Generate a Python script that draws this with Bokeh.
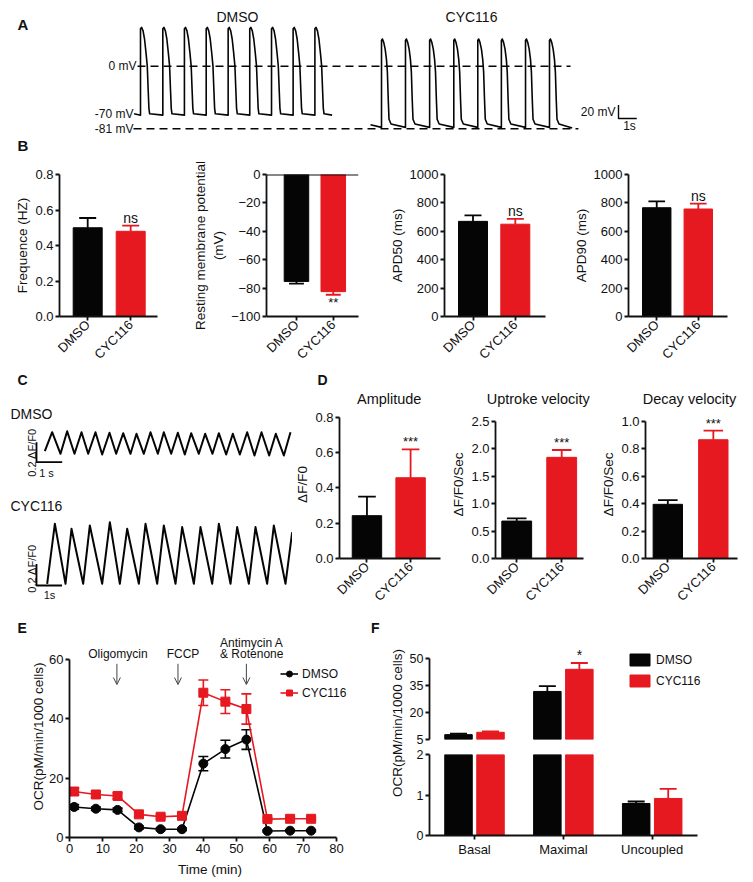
import math
from bokeh.plotting import figure
from bokeh.models import (Range1d, Label, LabelSet, ColumnDataSource, FixedTicker, Span,
                          Arrow, OpenHead, Legend, LegendItem, PrintfTickFormatter,
                          CDSView, BooleanFilter)
from bokeh.core.properties import value
from bokeh.layouts import row, column
from bokeh.embed import file_html
from bokeh.resources import INLINE

FONT = "Liberation Sans"
INK = "#111111"
BLACK = "#050505"
RED = "#e5191f"
GRAY = "#444444"

# ---------------- Panel A: action potentials (time s, mV) ----------------
ap_dmso_onsets = [0.00, 1.22, 2.40, 3.59, 4.79, 5.97, 7.16, 8.34, 9.53]
ap_dmso_dt = [0.00, 0.06, 0.14, 0.22, 0.30, 0.37, 0.42, 0.46, 0.50]
ap_dmso_mv = [55, 57, 52, 40, 20, 0, -35, -62, -70]
ap_dmso_rest = -72
ap_dmso_start = (-0.35, -70)
ap_dmso_end = (10.47, -72)

ap_cyc_onsets = [13.17, 14.48, 15.80, 17.12, 18.43, 19.72, 21.04, 22.35]
ap_cyc_dt = [0.00, 0.05, 0.12, 0.20, 0.27, 0.32, 0.37, 0.41, 0.52]
ap_cyc_mv = [38, 40, 35, 25, 10, -8, -50, -78, -85]
ap_cyc_rest = -90
ap_cyc_start = (12.57, -86)
ap_cyc_end = (23.59, -91)

ap_ref_levels = [0, -92]          # dashed reference lines (display mV)
ap_ref_ends = [23.50, 23.93]
ap_level_labels = ["0 mV", "-70 mV", "-81 mV"]
ap_level_y = [0, -70, -92]
ap_scale_mv = 20
ap_scale_s = 1

# ---------------- Panel B ----------------
groups = ["DMSO", "CYC116"]
bar_colors = [BLACK, RED]
freq_mean = [0.50, 0.48];  freq_sem = [0.055, 0.032]; freq_sig = ["", "ns"]
rmp_mean = [-75.3, -82.5]; rmp_sem = [1.6, 2.2];      rmp_sig = ["", "**"]
apd50_mean = [670, 650];   apd50_sem = [42, 37];      apd50_sig = ["", "ns"]
apd90_mean = [766, 757];   apd90_sem = [45, 38];      apd90_sig = ["", "ns"]

# ---------------- Panel C: calcium transients (time s, dF/F0) ----------------
ca_dmso_t = [0.0, 0.285, 0.610, 0.869, 1.154, 1.427, 1.686, 1.971, 2.231, 2.516, 2.776,
             3.048, 3.333, 3.567, 3.852, 4.112, 4.397, 4.630, 4.916, 5.175, 5.447,
             5.694, 5.992, 6.239, 6.524, 6.770, 7.056, 7.315, 7.588, 7.873, 8.158,
             8.431, 8.729, 8.988, 9.300, 9.559]
ca_dmso_v = [0.033, 0.223, 0.007, 0.233, 0.007, 0.223, 0.007, 0.223, 0.000, 0.217, 0.007,
             0.213, 0.007, 0.207, 0.007, 0.223, 0.007, 0.223, 0.007, 0.217, 0.000,
             0.213, 0.007, 0.207, 0.007, 0.213, 0.000, 0.207, 0.000, 0.223, -0.010,
             0.223, -0.010, 0.207, -0.010, 0.223]
ca_cyc_t = [0.0, 0.301, 0.719, 0.954, 1.412, 1.673, 2.157, 2.458, 2.850, 3.137, 3.595,
            3.856, 4.314, 4.575, 5.033, 5.294, 5.752, 6.013, 6.471, 6.732, 7.190,
            7.451, 7.908, 8.170, 8.627, 8.889, 9.346, 9.608]
ca_cyc_v = [0.0, 0.556, 0.0, 0.509, 0.0, 0.540, 0.0, 0.571, 0.0, 0.509, 0.0,
            0.556, 0.0, 0.540, 0.0, 0.525, 0.0, 0.525, 0.0, 0.556, 0.0,
            0.525, 0.0, 0.525, 0.0, 0.540, 0.0, 0.478]
ca_scale_v = 0.2
ca_scale_s = 1

# ---------------- Panel D ----------------
amp_mean = [0.243, 0.458]; amp_sem = [0.108, 0.161]
upv_mean = [0.683, 1.846]; upv_sem = [0.049, 0.134]
dcv_mean = [0.395, 0.866]; dcv_sem = [0.031, 0.067]
d_sig = ["", "***"]

# ---------------- Panel E: OCR time course ----------------
ocr_time = [1.4, 7.9, 14.4, 20.8, 27.3, 33.7, 40.1, 46.7, 53.0, 59.3, 66.1, 72.4]
ocr_dmso = [10.3, 9.7, 9.3, 3.4, 2.8, 2.8, 24.9, 29.8, 33.0, 2.2, 2.3, 2.3]
ocr_dmso_sem = [0.8, 0.6, 0.6, 0.5, 0.4, 0.4, 2.4, 3.0, 3.3, 0.3, 0.3, 0.3]
ocr_cyc = [15.5, 14.5, 14.0, 7.8, 7.0, 7.3, 48.8, 45.8, 43.3, 6.2, 6.3, 6.3]
ocr_cyc_sem = [1.2, 1.0, 1.0, 0.8, 0.6, 0.6, 4.3, 4.0, 5.1, 0.5, 0.5, 0.5]
inject_time = [14.2, 32.5, 53.0]
inject_names = [["Oligomycin"], ["FCCP"], ["Antimycin A", "& Rotenone"]]

# ---------------- Panel F: respiration (broken axis 2 | 5) ----------------
resp_cats = ["Basal", "Maximal", "Uncoupled"]
resp_dmso = [7.7, 31.7, 0.79];  resp_dmso_sem = [0.6, 2.9, 0.05]
resp_cyc = [9.0, 44.0, 0.915];  resp_cyc_sem = [0.5, 3.5, 0.235]
resp_sig = ["", "*", ""]
resp_break = (2, 5)


# ======================= helpers =======================
class Geo:
    def __init__(s, frame, xr, yr):
        s.l, s.t, s.r, s.b = frame
        s.xr, s.yr = xr, yr

    def x(s, px):
        return s.xr[0] + (px - s.l) * (s.xr[1] - s.xr[0]) / (s.r - s.l)

    def y(s, py):
        return s.yr[0] + (s.b - py) * (s.yr[1] - s.yr[0]) / (s.b - s.t)


def mkfig(box, frame, xr, yr, axes=(True, True), ext=None):
    """frame: page rect where xr/yr map; ext: larger page rect actually used as plot frame."""
    bx0, by0, bx1, by1 = box
    g0 = Geo(frame, xr, yr)
    L, T, R, B = ext or frame
    xr2 = (g0.x(L), g0.x(R))
    yr2 = (g0.y(B), g0.y(T))
    p = figure(width=bx1 - bx0, height=by1 - by0,
               x_range=Range1d(*xr2), y_range=Range1d(*yr2),
               min_border_left=L - bx0, min_border_right=bx1 - R,
               min_border_top=T - by0, min_border_bottom=by1 - B,
               x_axis_location="below" if axes[0] else None,
               y_axis_location="left" if axes[1] else None,
               output_backend="svg", toolbar_location=None, tools="")
    p.outline_line_color = None
    p.grid.visible = False
    for ax in p.axis:
        ax.axis_line_width = 1.8
        ax.axis_line_color = INK
        ax.major_tick_line_width = 1.8
        ax.major_tick_line_color = INK
        ax.major_tick_in = 0
        ax.major_tick_out = 4
        ax.minor_tick_line_color = None
        ax.major_label_text_font = FONT
        ax.major_label_text_font_size = "13px"
        ax.major_label_text_color = INK
        ax.major_label_standoff = 2
        ax.axis_label_text_font = FONT
        ax.axis_label_text_font_size = "13.5px"
        ax.axis_label_text_font_style = "normal"
        ax.axis_label_text_color = INK
        ax.axis_label_standoff = 2
    if ext:
        for ax in p.xaxis:
            ax.bounds = tuple(xr)
        for ax in p.yaxis:
            ax.bounds = tuple(yr)
    return p, Geo((L, T, R, B), xr2, yr2)


def plain(box):
    return mkfig(box, box, (0, 1), (0, 1), axes=(False, False))


def lab(p, x, y, s, size="13px", align="center", baseline="middle", bold=False, angle=0.0):
    p.add_layout(Label(x=x, y=y, text=s, text_font=FONT, text_font_size=size,
                       text_align=align, text_baseline=baseline, angle=angle,
                       text_font_style="bold" if bold else "normal", text_color=INK))


def bar_panel(box, frame, centers_px, yr, means, sems, sig, ylabel, ticks, fmt=None,
              width_px=29, cap_px=17, neg=False, sig_size="14px", ext=None):
    sp = centers_px[1] - centers_px[0]
    xr = ((frame[0] - centers_px[0]) / sp, (frame[2] - centers_px[0]) / sp)
    p, g = mkfig(box, frame, xr, yr, ext=ext)
    xs = list(range(len(means)))
    w, cw = width_px / sp, cap_px / sp
    ends = [m - e if neg else m + e for m, e in zip(means, sems)]
    src = ColumnDataSource(dict(x=xs, top=means, c=bar_colors[:len(means)], end=ends,
                                x0=[x - cw / 2 for x in xs], x1=[x + cw / 2 for x in xs], sig=sig))
    p.segment(x0="x", y0="top", x1="x", y1="end", line_color="c", line_width=1.8, source=src)
    p.segment(x0="x0", y0="end", x1="x1", y1="end", line_color="c", line_width=1.8, source=src)
    p.vbar(x="x", top="top", bottom=0, width=w, fill_color="c", line_color="c", source=src)
    p.add_layout(LabelSet(x="x", y="end", text="sig", source=src, text_align="center",
                          text_baseline="top" if neg else "bottom", text_font=value(FONT),
                          text_font_size=sig_size, text_color=INK))
    p.xaxis.ticker = FixedTicker(ticks=xs)
    p.xaxis.major_label_overrides = {i: gname for i, gname in enumerate(groups)}
    p.xaxis.major_label_orientation = math.pi / 4
    p.yaxis.ticker = FixedTicker(ticks=ticks)
    if fmt:
        p.yaxis.formatter = PrintfTickFormatter(format=fmt)
    if ylabel:
        p.yaxis.axis_label = ylabel
    return p, g


# ======================= Panel A (+ letter B) =======================
PX_S, Y0_PX, PX_MV, T0_PX = 18.3, 65.7, 0.68, 140.0
boxA = (0, 0, 753, 156)
xrA = ((0 - T0_PX) / PX_S, (753 - T0_PX) / PX_S)
yrA = ((Y0_PX - 156) / PX_MV, (Y0_PX - 0) / PX_MV)
pA, gA = mkfig(boxA, boxA, xrA, yrA, axes=(False, False))


def build_ap(start, onsets, dt, mv, rest, end):
    t, v = [start[0]], [start[1]]
    for on in onsets:
        t.append(on); v.append(rest)
        for d, m in zip(dt, mv):
            t.append(on + d); v.append(m)
    t.append(end[0]); v.append(end[1])
    return t, v


tA, vA = build_ap(ap_dmso_start, ap_dmso_onsets, ap_dmso_dt, ap_dmso_mv, ap_dmso_rest, ap_dmso_end)
pA.line(tA, vA, line_color=BLACK, line_width=1.6, line_join="round")
tB, vB = build_ap(ap_cyc_start, ap_cyc_onsets, ap_cyc_dt, ap_cyc_mv, ap_cyc_rest, ap_cyc_end)
pA.line(tB, vB, line_color=BLACK, line_width=1.6, line_join="round")
lstart = [gA.x(137), gA.x(133)]
pA.segment(x0=lstart, y0=ap_ref_levels, x1=ap_ref_ends, y1=ap_ref_levels,
           line_color=BLACK, line_width=1.4, line_dash="8 5")
for s, yv, px in zip(ap_level_labels, ap_level_y, [136, 133, 133]):
    lab(pA, gA.x(px), yv, s, size="12px", align="right")
lab(pA, gA.x(237), gA.y(16), "DMSO", size="14px")
lab(pA, gA.x(471), gA.y(16), "CYC116", size="14px")
lab(pA, gA.x(17), gA.y(24), "A", size="15px", align="left", bold=True)
lab(pA, gA.x(17), gA.y(145), "B", size="15px", align="left", bold=True)
sbx, sby = gA.x(618), gA.y(118)
pA.line([sbx, sbx, sbx + ap_scale_s], [sby + ap_scale_mv, sby, sby], line_color=BLACK, line_width=1.4)
lab(pA, gA.x(615), sby + ap_scale_mv / 2, "20 mV", size="12px", align="right")
lab(pA, sbx + ap_scale_s * 0.6, gA.y(125), "1s", size="12px")

# ======================= Panel B =======================
pB1, gB1 = bar_panel((0, 156, 190, 370), (59, 172, 157, 322), (87.2, 130.2), (0, 0.8),
                     freq_mean, freq_sem, freq_sig, "Frequence (HZ)", [0, 0.2, 0.4, 0.6, 0.8], "%.1f")
pB2, gB2 = bar_panel((190, 156, 380, 370), (253, 173, 358, 322), (287.2, 329.2), (-100, 0),
                     rmp_mean, rmp_sem, rmp_sig, "Resting membrane potential\n(mV)",
                     [-100, -80, -60, -40, -20, 0], None,
                     width_px=28, neg=True, sig_size="13px")
pB2.add_layout(Span(location=0, dimension="width", line_color=INK, line_width=1.8))
pB3, gB3 = bar_panel((380, 156, 570, 370), (444, 173, 545, 322), (472.5, 514.8), (0, 1000),
                     apd50_mean, apd50_sem, apd50_sig, "APD50 (ms)", [0, 200, 400, 600, 800, 1000])
pB4, gB4 = bar_panel((570, 156, 753, 370), (626, 174, 727, 322), (654.8, 697.2), (0, 1000),
                     apd90_mean, apd90_sem, apd90_sig, "APD90 (ms)", [0, 200, 400, 600, 800, 1000])

# ======================= Panel C =======================
boxC1 = (0, 370, 292, 482)
xrC1 = ((0 - 44.33) / 25.7, (292 - 44.33) / 25.7)
yrC1 = ((454 - 482) / 100.0, (454 - 370) / 100.0)
pC1, gC1 = mkfig(boxC1, boxC1, xrC1, yrC1, axes=(False, False))
pC1.line(ca_dmso_t, ca_dmso_v, line_color=BLACK, line_width=2, line_join="round")
cx, cy = gC1.x(36), gC1.y(461.7)
pC1.line([cx, cx, cx + ca_scale_s], [cy + ca_scale_v, cy, cy], line_color=BLACK, line_width=1.8)
lab(pC1, gC1.x(31), gC1.y(452), "0.2 ΔF/F0", size="11px", angle=math.pi / 2)
lab(pC1, gC1.x(46), gC1.y(472), "1 s", size="11px")
lab(pC1, gC1.x(10), gC1.y(413), "DMSO", size="14px", align="left")
lab(pC1, gC1.x(17), gC1.y(379), "C", size="14px", align="left", bold=True)

boxC2 = (0, 482, 292, 617)
xrC2 = ((0 - 46.67) / 25.5, (292 - 46.67) / 25.5)
yrC2 = ((583.3 - 617) / 108.0, (583.3 - 482) / 108.0)
pC2, gC2 = mkfig(boxC2, boxC2, xrC2, yrC2, axes=(False, False))
pC2.line(ca_cyc_t, ca_cyc_v, line_color=BLACK, line_width=2, line_join="round")
cx, cy = gC2.x(36), gC2.y(585)
pC2.line([cx, cx, cx + ca_scale_s], [cy + ca_scale_v, cy, cy], line_color=BLACK, line_width=1.8)
lab(pC2, gC2.x(31), gC2.y(568), "0.2 ΔF/F0", size="11px", angle=math.pi / 2)
lab(pC2, gC2.x(49), gC2.y(594), "1s", size="11px")
lab(pC2, gC2.x(10), gC2.y(505), "CYC116", size="14px", align="left")

# ======================= Panel D =======================
pDs, gDs = plain((292, 370, 753, 410))
lab(pDs, gDs.x(317), gDs.y(379), "D", size="14px", align="left", bold=True)
lab(pDs, gDs.x(388.7), gDs.y(398.3), "Amplitude", size="14.5px")
lab(pDs, gDs.x(537.8), gDs.y(398.3), "Uptroke velocity", size="14.5px")
lab(pDs, gDs.x(689), gDs.y(398.3), "Decay velocity", size="14.5px")
pD1, gD1 = bar_panel((292, 410, 448, 617), (337, 417, 440, 559), (365, 409.5), (0, 0.8),
                     amp_mean, amp_sem, d_sig, "ΔF/F0", [0, 0.2, 0.4, 0.6, 0.8], "%.1f",
                     width_px=30, cap_px=18, sig_size="13px", ext=(337, 410, 440, 559))
pD2, gD2 = bar_panel((448, 410, 598, 617), (493, 421, 583, 558), (514.7, 560.7), (0, 2.5),
                     upv_mean, upv_sem, d_sig, "ΔF/F0/Sec", [0, 0.5, 1.0, 1.5, 2.0, 2.5], "%.1f",
                     width_px=30.5, cap_px=20, sig_size="13px", ext=(493, 410, 583, 558))
pD3, gD3 = bar_panel((598, 410, 753, 617), (643, 421, 737, 560), (665.8, 712.3), (0, 1.0),
                     dcv_mean, dcv_sem, d_sig, "ΔF/F0/Sec", [0, 0.2, 0.4, 0.6, 0.8, 1.0], "%.1f",
                     width_px=30, cap_px=20, sig_size="13px", ext=(643, 410, 737, 560))

# ======================= strip with E / F letters =======================
pEF, gEF = plain((0, 617, 753, 635))
lab(pEF, gEF.x(17), gEF.y(627), "E", size="14px", align="left", bold=True)
lab(pEF, gEF.x(370.5), gEF.y(627), "F", size="14px", align="left", bold=True)

# ======================= Panel E =======================
pE, gE = mkfig((0, 635, 370, 882), (69, 659, 336, 837), (0, 80), (0, 60),
               ext=(69, 635, 350, 837))
pE.xaxis.ticker = FixedTicker(ticks=[0, 10, 20, 30, 40, 50, 60, 70, 80])
pE.yaxis.ticker = FixedTicker(ticks=[0, 20, 40, 60])
pE.xaxis.axis_label = "Time (min)"
pE.yaxis.axis_label = "OCR(pM/min/1000 cells)"
pE.yaxis.axis_label_standoff = 0
pE.xaxis.axis_label_standoff = 6
pE.xaxis.major_label_standoff = 2
capE = 10 / 3.3375
items = []
for name, vals, sems, col, marker in [("DMSO", ocr_dmso, ocr_dmso_sem, BLACK, "circle"),
                                       ("CYC116", ocr_cyc, ocr_cyc_sem, RED, "square")]:
    src = ColumnDataSource(dict(t=ocr_time, v=vals,
                                lo=[a - b for a, b in zip(vals, sems)],
                                hi=[a + b for a, b in zip(vals, sems)],
                                x0=[t - capE / 2 for t in ocr_time],
                                x1=[t + capE / 2 for t in ocr_time]))
    pE.segment(x0="t", y0="lo", x1="t", y1="hi", line_color=col, line_width=1.6, source=src)
    pE.segment(x0="x0", y0="lo", x1="x1", y1="lo", line_color=col, line_width=1.6, source=src)
    pE.segment(x0="x0", y0="hi", x1="x1", y1="hi", line_color=col, line_width=1.6, source=src)
    lr = pE.line("t", "v", line_color=col, line_width=1.6, source=src)
    sr = pE.scatter("t", "v", marker=marker, size=9, fill_color=col, line_color=col, source=src)
    items.append(LegendItem(label=name, renderers=[lr, sr]))
legE = Legend(items=items, location=(211, 137), glyph_width=18, glyph_height=15, label_height=15,
              spacing=4, padding=0, margin=0, label_standoff=4, border_line_color=None,
              background_fill_alpha=0, label_text_font=FONT, label_text_font_size="12px",
              label_text_color=INK)
pE.add_layout(legE)
for t, names, dx in zip(inject_time, inject_names, [0.3, 1.5, 1.6]):
    pE.add_layout(Arrow(end=OpenHead(size=7, line_width=1, line_color=GRAY),
                        x_start=t, y_start=gE.y(663.3), x_end=t, y_end=gE.y(684),
                        line_color=GRAY, line_width=1))
    for k, nm in enumerate(reversed(names)):
        lab(pE, t + dx, gE.y(653.6 - 11.4 * k), nm, size="12px")

# ======================= Panel F =======================
pFl, gFl = plain((370, 635, 406, 882))
lab(pFl, gFl.x(396.7), gFl.y(742), "OCR(pM/min/1000 cells)", size="13.5px", angle=math.pi / 2)

F_C0, F_SP, F_DODGE = 474.0, 88.85, 16.0
xrF = ((429 - F_C0) / F_SP, (697 - F_C0) / F_SP)
pFt, gFt = mkfig((406, 635, 753, 746), (429, 658, 697, 739), xrF, (resp_break[1], 50),
                 axes=(False, True), ext=(429, 635, 712, 739))
pFb, gFb = mkfig((406, 746, 753, 882), (429, 754, 697, 835), xrF, (0, resp_break[0]),
                 ext=(429, 754, 712, 835))
pFt.yaxis.ticker = FixedTicker(ticks=[5, 20, 35, 50])
pFb.yaxis.ticker = FixedTicker(ticks=[0, 1, 2])
for pp in (pFt, pFb):
    pp.yaxis.major_label_text_font_size = "12.5px"
pFb.xaxis.ticker = FixedTicker(ticks=list(range(len(resp_cats))))
pFb.xaxis.major_label_overrides = {i: c for i, c in enumerate(resp_cats)}
dd = F_DODGE / F_SP
bw, cwF = 27.5 / F_SP, 17 / F_SP
legF_items = []
for name, vals, sems, col, off in [("DMSO", resp_dmso, resp_dmso_sem, BLACK, -dd),
                                    ("CYC116", resp_cyc, resp_cyc_sem, RED, dd)]:
    xs = [i + off for i in range(len(resp_cats))]
    src = ColumnDataSource(dict(x=xs, v=vals, hi=[a + b for a, b in zip(vals, sems)],
                                x0=[x - cwF / 2 for x in xs], x1=[x + cwF / 2 for x in xs],
                                sig=resp_sig if name == "CYC116" else [""] * len(xs)))
    upper = CDSView(filter=BooleanFilter([v > resp_break[1] for v in vals]))
    for pp, view in ((pFt, upper), (pFb, CDSView())):
        pp.segment(x0="x", y0="v", x1="x", y1="hi", line_color=col, line_width=1.8,
                   source=src, view=view)
        pp.segment(x0="x0", y0="hi", x1="x1", y1="hi", line_color=col, line_width=1.8,
                   source=src, view=view)
        r = pp.vbar(x="x", top="v", bottom=0, width=bw, fill_color=col, line_color=col,
                    source=src, view=view)
        if pp is pFt:
            legF_items.append(LegendItem(label=name, renderers=[r]))
    pFt.add_layout(LabelSet(x="x", y="hi", text="sig", source=src, text_align="center",
                            text_baseline="bottom", text_font=value(FONT),
                            text_font_size="14px", text_color=INK))
legF = Legend(items=legF_items, location=(198, 51), glyph_width=25, glyph_height=15, label_height=15,
              spacing=6, padding=0, margin=0, label_standoff=4, border_line_color=None,
              background_fill_alpha=0, label_text_font=FONT, label_text_font_size="12px",
              label_text_color=INK)
pFt.add_layout(legF)

# ======================= layout =======================
layout = column(
    pA,
    row(pB1, pB2, pB3, pB4, spacing=0),
    row(column(pC1, pC2, spacing=0),
        column(pDs, row(pD1, pD2, pD3, spacing=0), spacing=0), spacing=0),
    pEF,
    row(pE, pFl, column(pFt, pFb, spacing=0), spacing=0),
    spacing=0,
)

with open("out.html", "w") as f:
    f.write(file_html(layout, INLINE))
